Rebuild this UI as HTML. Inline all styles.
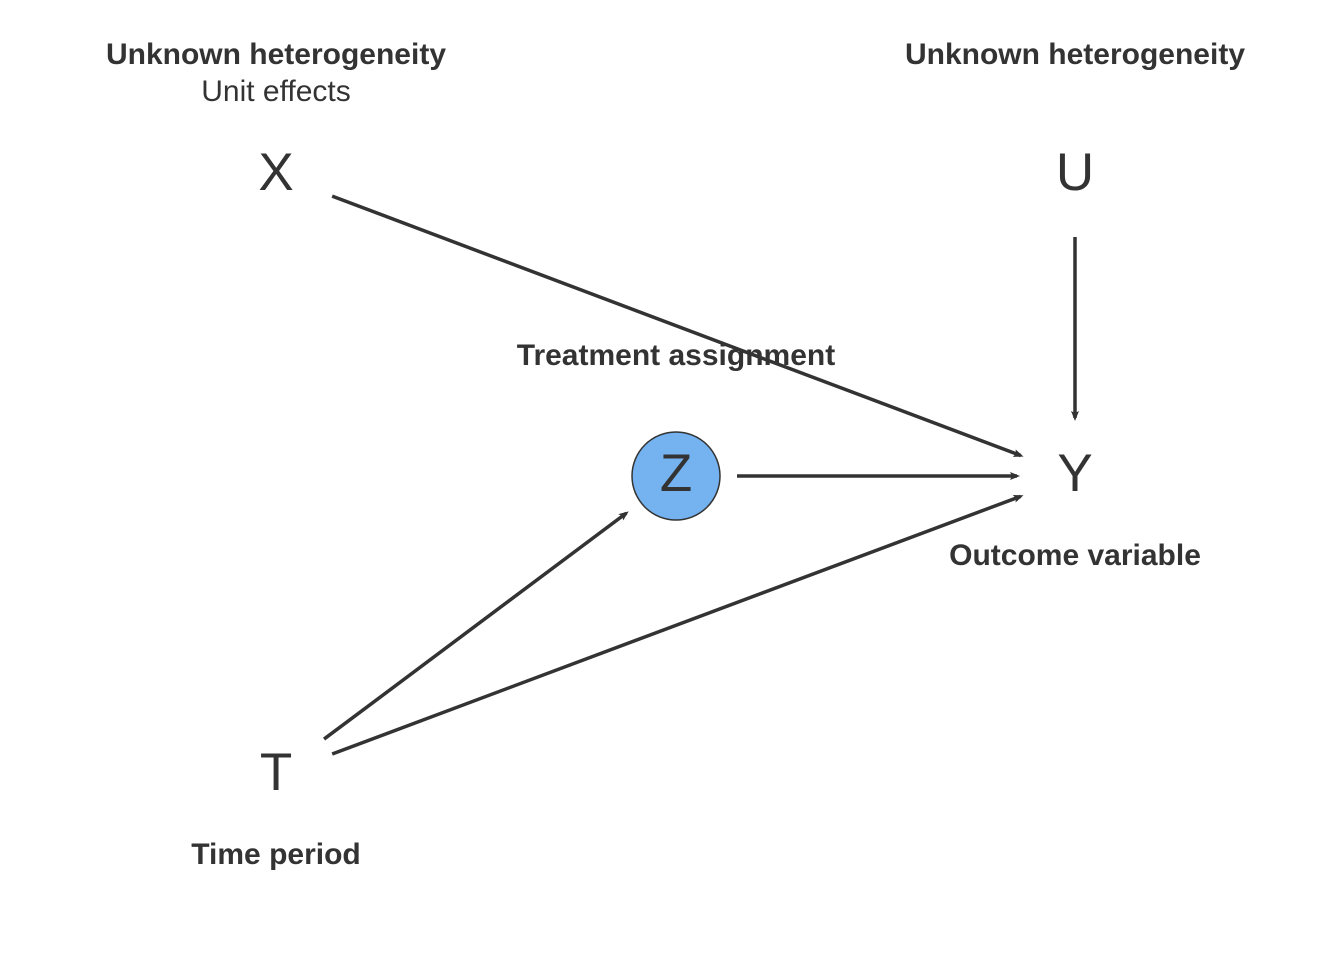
<!DOCTYPE html>
<html><head><meta charset="utf-8"><style>
html,body{margin:0;padding:0;background:#fff;}
svg{display:block;font-family:"Liberation Sans",sans-serif;}
</style></head><body>
<svg id="dag" width="1344" height="960" viewBox="0 0 1344 960" xmlns="http://www.w3.org/2000/svg">
<defs>
<marker id="ah" markerWidth="10" markerHeight="10" refX="7" refY="5" orient="auto" markerUnits="userSpaceOnUse">
<path d="M0,1 L10,5 L0,9 L2,5 Z" fill="#333"/>
</marker>
</defs>
<g id="edges"></g>
<circle cx="676" cy="476" r="44" fill="#74b3f0" stroke="#333" stroke-width="1.5"/>
<g id="nodes" fill="#333"></g>
<g fill="#333" font-size="30">
<text x="276" y="64" text-anchor="middle" font-weight="bold">Unknown heterogeneity</text>
<text x="276" y="101" text-anchor="middle">Unit effects</text>
<text x="1075" y="64" text-anchor="middle" font-weight="bold">Unknown heterogeneity</text>
<text x="676" y="365" text-anchor="middle" font-weight="bold">Treatment assignment</text>
<text x="1075" y="565" text-anchor="middle" font-weight="bold">Outcome variable</text>
<text x="276" y="864" text-anchor="middle" font-weight="bold">Time period</text>
</g>
</svg>
<script>
const nodeNames = ["X","U","Z","Y","T"];
const nodeX = [276,1075,676,1075,276];
const nodeY = [175,175,476,476,775];
const edgeFrom = ["X","U","Z","T","T"];
const edgeTo = ["Y","Y","Y","Z","Y"];
const ns = "http://www.w3.org/2000/svg";
const gN = document.getElementById("nodes");
const gE = document.getElementById("edges");
function pos(n){const i=nodeNames.indexOf(n);return [nodeX[i],nodeY[i]];}
nodeNames.forEach((n,i)=>{
  const t=document.createElementNS(ns,"text");
  t.setAttribute("x",nodeX[i]);t.setAttribute("y",nodeY[i]+15);
  t.setAttribute("text-anchor","middle");t.setAttribute("font-size","53");
  t.textContent=n;
  
  
  gN.appendChild(t);
});
edgeFrom.forEach((f,i)=>{
  const [x1,y1]=pos(f),[x2,y2]=pos(edgeTo[i]);
  const dx=x2-x1,dy=y2-y1,L=Math.hypot(dx,dy),ux=dx/L,uy=dy/L;
  const s=(f==="U")?62:(f==="Z"?61:60), e=(edgeTo[i]==="Z")?62:58;
  const l=document.createElementNS(ns,"line");
  l.setAttribute("x1",x1+ux*s);l.setAttribute("y1",y1+uy*s);
  l.setAttribute("x2",x2-ux*e);l.setAttribute("y2",y2-uy*e);
  l.setAttribute("stroke","#333");l.setAttribute("stroke-width","3.5");
  l.setAttribute("marker-end","url(#ah)");
  
  
  gE.appendChild(l);
});
</script>
</body></html>
